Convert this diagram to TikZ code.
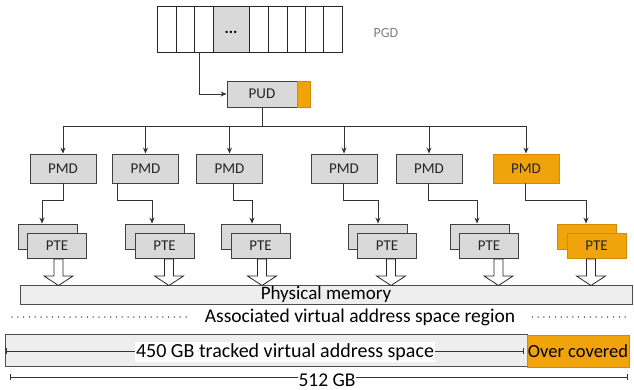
\documentclass[tikz,border=0pt]{standalone}
\usepackage{fontspec}
\setmainfont{Carlito}
\usetikzlibrary{arrows.meta}
\definecolor{boxgray}{HTML}{D9D9D9}
\definecolor{edge}{HTML}{404040}
\definecolor{orng}{HTML}{F0A30A}
\definecolor{orngedge}{HTML}{D08C08}
\definecolor{lightbar}{HTML}{EEEEEE}
\definecolor{labgray}{HTML}{808080}
\tikzset{
  box/.style={draw=edge, fill=boxgray, line width=0.9pt, inner sep=0pt, text=black!85, font=\fontsize{15}{16}\selectfont},
  obox/.style={box, draw=orngedge, fill=orng},
  cell/.style={draw=black!85, fill=white, line width=0.9pt, inner sep=0pt, minimum height=46pt},
  pmdbox/.style={box, minimum width=66pt, minimum height=29pt},
  ptebox/.style={box, minimum width=59pt, minimum height=25pt},
  arr/.style={draw=black!80, line width=0.8pt, -{Stealth[length=6pt,width=5pt]}},
  conn/.style={draw=black!80, line width=0.8pt},
  bararrow/.style={draw=black!85, fill=white, line width=0.8pt},
  big/.style={font=\fontsize{19.5}{20}\selectfont},
  tick/.style={draw=black!80, line width=0.7pt, {Bar[width=6pt]}-{Bar[width=6pt]}},
  dotline/.style={line width=1.5pt, line cap=round, dash pattern=on 0pt off 5.8pt, black!80},
}
\begin{document}
\begin{tikzpicture}[x=1pt,y=-1pt]
\useasboundingbox (0,0) rectangle (634,390);
% PGD cells
\node[cell, minimum width=19pt] (g1) at (166.5,29) {};
\node[cell, minimum width=18pt] (g2) at (185,29) {};
\node[cell, minimum width=19pt] (g3) at (203.5,29) {};
\node[cell, minimum width=36pt, fill=boxgray, text height=9pt, text depth=0pt, font=\fontsize{16}{16}\bfseries] (g4) at (231,29) {...};
\node[cell, minimum width=19pt] (g5) at (258.5,29) {};
\node[cell, minimum width=19pt] (g6) at (277.5,29) {};
\node[cell, minimum width=18pt] (g7) at (296,29) {};
\node[cell, minimum width=18pt] (g8) at (314,29) {};
\node[cell, minimum width=19pt] (g9) at (332.5,29) {};
\node[anchor=west, text=labgray, font=\fontsize{14}{14}\selectfont] (pgdlab) at (370,33) {PGD};
% PUD
\node[box, minimum width=70pt, minimum height=26pt] (pud) at (262,94) {PUD};
\node[obox, anchor=west, minimum width=13pt, minimum height=26pt] (pudo) at (pud.east) {};
\draw[arr] ([xshift=-4.5pt]g3.south) |- (pud.west);
\draw[conn] (pud.south) -- ++(0,19) coordinate (bus);
% PMDs
\node[pmdbox] (pmd1) at (63,168.5) {PMD};
\node[pmdbox] (pmd2) at (145.5,168.5) {PMD};
\node[pmdbox] (pmd3) at (229.5,168.5) {PMD};
\node[pmdbox] (pmd4) at (344,168.5) {PMD};
\node[pmdbox] (pmd5) at (429,168.5) {PMD};
\node[pmdbox, obox] (pmd6) at (526,168.5) {PMD};
\draw[conn] (pmd1.north |- bus) -- (pmd6.north |- bus);
\foreach \i in {1,...,6} {\draw[arr] (pmd\i.north |- bus) -- (pmd\i.north);}
% PTE stacks
\foreach \i/\x in {1/47.5,2/155,3/251,4/377.5,5/479.5} {
  \node[ptebox] (pteb\i) at (\x,236.5) {};
  \node[ptebox] (pte\i) at (\x+9.5,246) {PTE};
}
\node[ptebox, obox] (pteb6) at (587,236.5) {};
\node[ptebox, obox] (pte6) at (596.5,246) {PTE};
% PMD -> PTE connectors
\draw[arr] (pmd1.south) -- ++(0,17) -| ([xshift=-5.5pt]pteb1.north);
\draw[arr] ([xshift=-28.5pt]pmd2.south) -- ++(0,17) -| ([xshift=-3pt]pteb2.north);
\draw[arr] ([xshift=3.5pt]pmd3.south) -- ++(0,17) -| ([xshift=1pt]pteb3.north);
\draw[arr] ([xshift=-1pt]pmd4.south) -- ++(0,17) -| ([xshift=0.5pt]pteb4.north);
\draw[arr] ([xshift=-1pt]pmd5.south) -- ++(0,17) -| ([xshift=-2.5pt]pteb5.north);
\draw[arr] ([xshift=-1pt]pmd6.south) -- ++(0,17) -| ([xshift=-1pt]pteb6.north);
% memory bar
\node[draw=black!70, fill=lightbar, line width=0.8pt, minimum width=612pt, minimum height=19pt, inner sep=0pt, font=\fontsize{19}{19}\selectfont] (mem) at (326,294.5) {Physical memory};
% hollow block arrows
\foreach \i/\c in {1/58.5,2/169,3/262,4/391,5/498.5,6/591} {
  \draw[bararrow] (\c-4.5,259) -- (\c-4.5,276) -- (\c-14.5,276) -- (\c,285.5) -- (\c+14.5,276) -- (\c+4.5,276) -- (\c+4.5,259) -- cycle;
}
% associated region
\node[big, inner sep=1pt] (assoc) at (360,317) {Associated virtual address space region};
\coordinate (dl) at (12,317);
\coordinate (dr) at (630,317);
\draw[dotline] (dl) -- ([xshift=-12pt]assoc.west);
\draw[dotline] ([xshift=16pt]assoc.east) -- (dr);
% tracked bar
\node[draw=black!70, fill=lightbar, line width=0.8pt, minimum width=522pt, minimum height=32pt, inner sep=0pt] (track) at (266,350) {};
\node[draw=orngedge, fill=orng, line width=0.8pt, minimum width=102pt, minimum height=32pt, inner sep=0pt, font=\fontsize{18.5}{19}\selectfont] (over) at (578,351) {Over covered};
\coordinate (tl) at (6,351);
\coordinate (tr) at (524,351);
\draw[tick] (tl) -- (tr);
\node[fill=white, font=\fontsize{20}{20}\selectfont, inner sep=1.5pt] (tracklab) at (285,352) {450 GB tracked virtual address space};
% 512 GB
\coordinate (sl) at (10,377);
\coordinate (sr) at (628,377);
\draw[tick] (sl) -- (sr);
\node[fill=white, big, inner sep=1pt] (sizelab) at (327,380) {512 GB};
\end{tikzpicture}
\end{document}
